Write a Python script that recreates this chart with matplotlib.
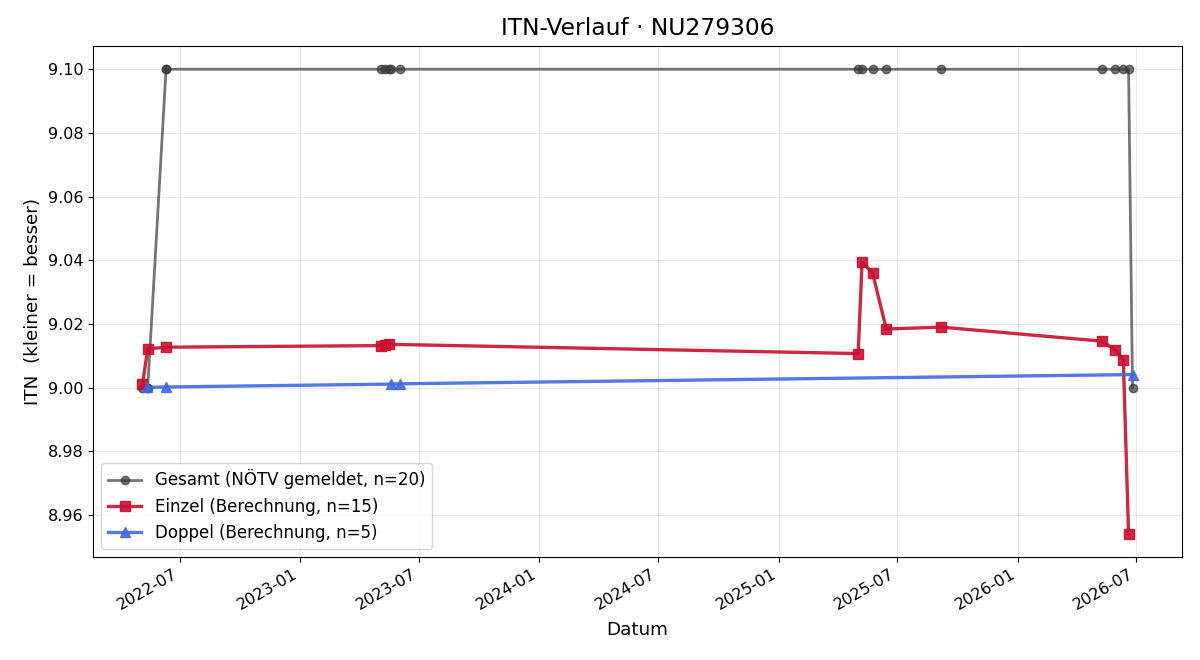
import matplotlib
matplotlib.use("Agg")
import matplotlib.pyplot as plt
import pandas as pd

einzel_dates = ["2022-05-05", "2022-05-13", "2022-06-10", "2023-05-05", "2023-05-11",
                "2023-05-17", "2025-05-02", "2025-05-08", "2025-05-24", "2025-06-14",
                "2025-09-06", "2026-05-09", "2026-05-30", "2026-06-11", "2026-06-19"]
einzel_vals = [9.001, 9.0122, 9.0127, 9.0132, 9.0133,
               9.0136, 9.0107, 9.0394, 9.0360, 9.0184,
               9.0190, 9.0146, 9.0118, 9.0086, 8.9541]

doppel_dates = ["2022-05-12", "2022-06-10", "2023-05-19", "2023-06-02", "2026-06-25"]
doppel_vals = [9.0001, 9.0002, 9.0011, 9.0012, 9.0041]

gesamt_dates = ["2022-05-05", "2022-05-12", "2022-05-13", "2022-06-10", "2022-06-10",
                "2023-05-05", "2023-05-11", "2023-05-17", "2023-05-19", "2023-06-02",
                "2025-05-02", "2025-05-08", "2025-05-24", "2025-06-14", "2025-09-06",
                "2026-05-09", "2026-05-30", "2026-06-11", "2026-06-19", "2026-06-25"]
gesamt_vals = [9.00, 9.00, 9.00, 9.10, 9.10,
               9.10, 9.10, 9.10, 9.10, 9.10,
               9.10, 9.10, 9.10, 9.10, 9.10,
               9.10, 9.10, 9.10, 9.10, 9.00]

fig, ax = plt.subplots(figsize=(12, 6.6), dpi=100)

ax.plot(pd.to_datetime(gesamt_dates), gesamt_vals, color="#3a3a3a", alpha=0.7,
        marker="o", markersize=6, linewidth=2.0,
        label="Gesamt (NÖTV gemeldet, n=20)", zorder=2)
ax.plot(pd.to_datetime(einzel_dates), einzel_vals, color="#c8102e", alpha=0.9,
        marker="s", markersize=7.5, linewidth=2.4,
        label="Einzel (Berechnung, n=15)", zorder=3)
ax.plot(pd.to_datetime(doppel_dates), doppel_vals, color="#4169e1", alpha=0.9,
        marker="^", markersize=7.5, linewidth=2.4,
        label="Doppel (Berechnung, n=5)", zorder=4)

ax.set_title("ITN-Verlauf · NU279306", fontsize=16.8, pad=8)
ax.set_xlabel("Datum", fontsize=13.2, labelpad=6)
ax.set_ylabel("ITN  (kleiner = besser)", fontsize=13.2)
ax.tick_params(labelsize=11.5)
ax.grid(True, alpha=0.3)
ax.legend(loc="lower left", fontsize=12)
fig.autofmt_xdate()
fig.subplots_adjust(left=93/1200, right=1182/1200, top=1-46/660, bottom=1-557/660)
fig.savefig("out.png", dpi=100)
